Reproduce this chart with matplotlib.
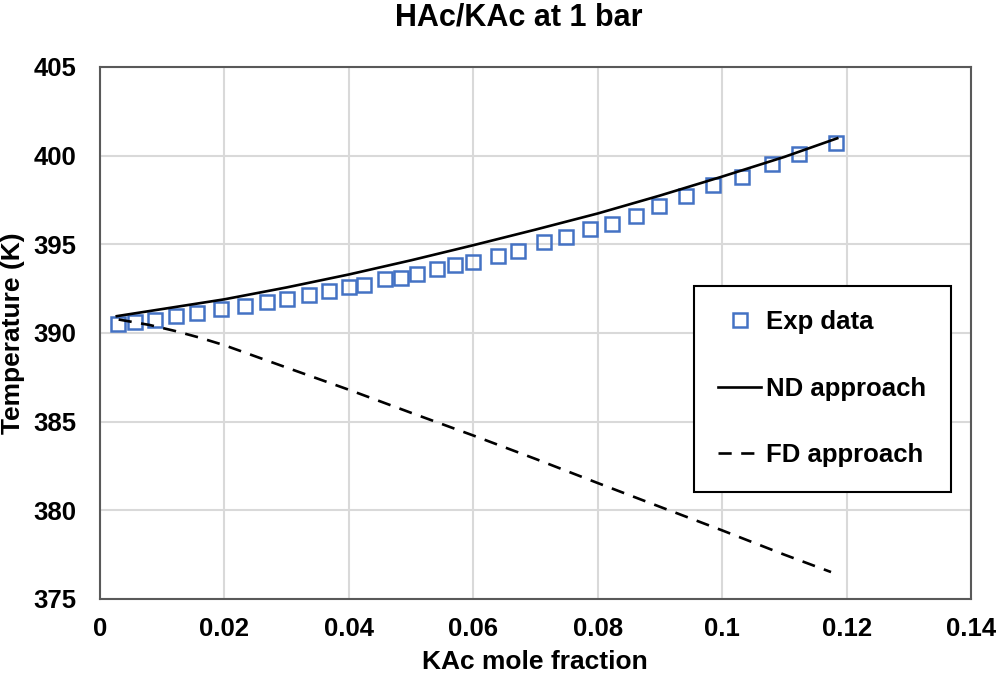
import matplotlib
matplotlib.use("Agg")
import matplotlib.pyplot as plt
from matplotlib.ticker import FixedLocator, FuncFormatter

plt.rcParams['font.family'] = ['Liberation Sans', 'DejaVu Sans']
plt.rcParams['font.weight'] = 'bold'

# ---------------- data ----------------
exp_x = [0.00286, 0.00566, 0.00877, 0.01215, 0.01564, 0.01939, 0.02325, 0.02690,
         0.03012, 0.03355, 0.03681, 0.04003, 0.04240, 0.04578, 0.04835, 0.05088,
         0.05410, 0.05704, 0.05999, 0.06401, 0.06723, 0.07136, 0.07490, 0.07876,
         0.08235, 0.08616, 0.08986, 0.09416, 0.09860, 0.10326, 0.10799, 0.11243,
         0.11829]
exp_T = [390.53, 390.62, 390.76, 390.94, 391.13, 391.36, 391.55, 391.72,
         391.94, 392.13, 392.37, 392.60, 392.71, 393.02, 393.09, 393.32,
         393.60, 393.82, 394.01, 394.33, 394.62, 395.11, 395.42, 395.84,
         396.14, 396.61, 397.16, 397.74, 398.33, 398.81, 399.51, 400.10,
         400.70]

nd_x = [0.0027, 0.01, 0.02, 0.03, 0.04, 0.05, 0.06, 0.07, 0.08, 0.09, 0.10, 0.11, 0.1185]
nd_T = [390.95, 391.35, 391.90, 392.57, 393.30, 394.10, 394.95, 395.83, 396.74,
        397.75, 398.82, 399.93, 400.98]

fd_x = [0.003, 0.008, 0.012, 0.016, 0.02, 0.025, 0.03, 0.04, 0.05, 0.06, 0.07,
        0.08, 0.09, 0.10, 0.11, 0.1175]
fd_T = [390.76, 390.45, 390.12, 389.74, 389.31, 388.68, 388.05, 386.80, 385.50,
        384.22, 382.90, 381.54, 380.20, 378.87, 377.50, 376.52]

x_ticks = [0, 0.02, 0.04, 0.06, 0.08, 0.10, 0.12, 0.14]
y_ticks = [375, 380, 385, 390, 395, 400, 405]

title = "HAc/KAc at 1 bar"
xlabel = "KAc mole fraction"
ylabel = "Temperature (K)"
labels = ["Exp data", "ND approach", "FD approach"]

# ---------------- figure ----------------
W, H = 996, 677
fig = plt.figure(figsize=(W / 100, H / 100), dpi=100)
ax = fig.add_axes([100 / W, 1 - 599 / H, (971 - 100) / W, (599 - 67) / H])

ax.plot(exp_x, exp_T, linestyle='none', marker='s', markersize=10,
        markerfacecolor='none', markeredgecolor='#4472C4', markeredgewidth=1.8,
        label=labels[0], zorder=3)
ax.plot(nd_x, nd_T, color='black', linewidth=1.9, label=labels[1], zorder=4)
ax.plot(fd_x, fd_T, color='black', linewidth=1.9, linestyle=(0, (5.0, 3.6)),
        label=labels[2], zorder=4)

ax.set_xlim(0, 0.14)
ax.set_ylim(375, 405)
ax.xaxis.set_major_locator(FixedLocator(x_ticks))
ax.yaxis.set_major_locator(FixedLocator(y_ticks))
ax.xaxis.set_major_formatter(FuncFormatter(lambda v, p: f"{v:g}"))
ax.yaxis.set_major_formatter(FuncFormatter(lambda v, p: f"{v:g}"))
ax.tick_params(axis='both', length=0, labelsize=18.5)
ax.tick_params(axis='y', pad=17)
ax.tick_params(axis='x', pad=13)
for lab in ax.get_xticklabels() + ax.get_yticklabels():
    lab.set_fontweight('bold')

ax.grid(True, color='#d9d9d9', linewidth=1.5)
ax.set_axisbelow(True)
for s in ax.spines.values():
    s.set_color('#595959')
    s.set_linewidth(1.5)

fig.text(519 / W, 1 - 25 / H, title, ha='center', va='baseline',
         fontsize=22, fontweight='bold')
fig.text(535 / W, 1 - 669 / H, xlabel, ha='center', va='baseline',
         fontsize=19, fontweight='bold')
fig.text(13 / W, 1 - 333 / H, ylabel, ha='center', va='center', rotation=90,
         fontsize=19, fontweight='bold')

leg = ax.legend(loc='upper left', bbox_to_anchor=(694 / W, 1 - 286 / H),
                bbox_transform=fig.transFigure, borderaxespad=0,
                fancybox=False, framealpha=1, edgecolor='black',
                prop={'size': 18.5, 'weight': 'bold'},
                handlelength=1.67, handletextpad=0.2, labelspacing=1.65,
                borderpad=0.95)
leg.get_frame().set_linewidth(1.5)

fig.savefig("out.png", dpi=100)
